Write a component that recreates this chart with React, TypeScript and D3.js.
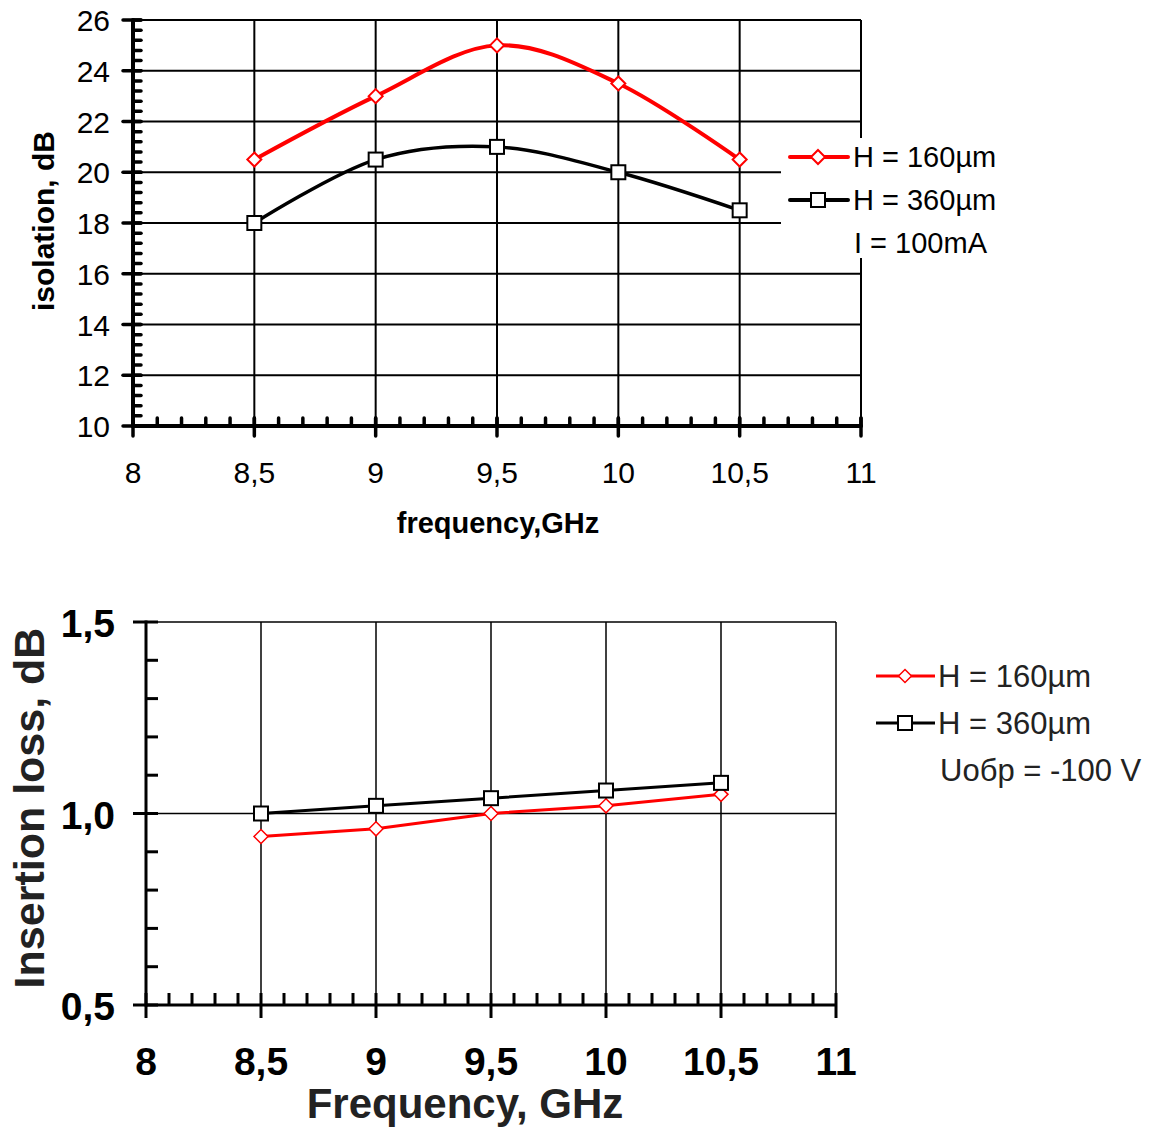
import React from "react";
import * as d3 from "d3";

// частоты, ГГц
const freqs = [8.5, 9, 9.5, 10, 10.5];

// верхний график: развязка, дБ
const iso160 = [20.5, 23, 25, 23.5, 20.5];
const iso360 = [18, 20.5, 21, 20, 18.5];
const isoTicks = [10, 12, 14, 16, 18, 20, 22, 24, 26];

// нижний график: вносимые потери, дБ
const loss160 = [0.94, 0.96, 1.0, 1.02, 1.05];
const loss360 = [1.0, 1.02, 1.04, 1.06, 1.08];
const lossTicks = [0.5, 1.0, 1.5];

const xTicks = [8, 8.5, 9, 9.5, 10, 10.5, 11];
const fmt = (v: number) => String(v).replace(".", ",");
const fmt1 = (v: number) => v.toFixed(1).replace(".", ",");

const diamond = (cx: number, cy: number, r: number) =>
  `M${cx},${cy - r}L${cx + r},${cy}L${cx},${cy + r}L${cx - r},${cy}Z`;

const font = "Arial, 'Liberation Sans', sans-serif";

const TopChart = () => {
  const x = d3.scaleLinear().domain([8, 11]).range([133, 861]);
  const y = d3.scaleLinear().domain([10, 26]).range([426, 20]);
  const line = d3
    .line<number>()
    .x((d, i) => x(freqs[i]))
    .y((d) => y(d))
    .curve(d3.curveCardinal.tension(0));
  const minorY = d3.range(10, 26.001, 0.4);
  const minorX = d3.range(8, 11.001, 0.1);
  return (
    <g>
      {/* сетка */}
      {isoTicks.slice(1).map((t) => (
        <line key={"h" + t} x1={x(8)} x2={x(11)} y1={y(t)} y2={y(t)} stroke="#000" strokeWidth={2} />
      ))}
      {xTicks.slice(1).map((t) => (
        <line key={"v" + t} x1={x(t)} x2={x(t)} y1={y(26)} y2={y(10)} stroke="#000" strokeWidth={2} />
      ))}
      {/* оси */}
      <g stroke="#000" strokeLinecap="round">
        {minorY.map((t, i) => (
          <line key={"my" + i} x1={x(8)} x2={x(8) + 8} y1={y(t)} y2={y(t)} strokeWidth={3.5} />
        ))}
        {minorX.map((t, i) => (
          <line key={"mx" + i} x1={x(t)} x2={x(t)} y1={y(10)} y2={y(10) - 8} strokeWidth={3.5} />
        ))}
        {isoTicks.map((t) => (
          <line key={"ty" + t} x1={x(8) - 10} x2={x(8) + 8} y1={y(t)} y2={y(t)} strokeWidth={3.5} />
        ))}
        {xTicks.map((t) => (
          <line key={"tx" + t} x1={x(t)} x2={x(t)} y1={y(10) - 8} y2={y(10) + 10} strokeWidth={3.5} />
        ))}
        <line x1={x(8)} x2={x(8)} y1={y(26)} y2={y(10)} strokeWidth={4} />
        <line x1={x(8)} x2={x(11)} y1={y(10)} y2={y(10)} strokeWidth={4} />
      </g>
      <g fontFamily={font} fontSize={30} fill="#000">
        {isoTicks.map((t) => (
          <text key={t} x={x(8) - 23} y={y(t) + 11} textAnchor="end">
            {t}
          </text>
        ))}
        {xTicks.map((t) => (
          <text key={t} x={x(t)} y={y(10) + 57} textAnchor="middle">
            {fmt(t)}
          </text>
        ))}
      </g>
      <text x={498} y={533} textAnchor="middle" fontFamily={font} fontWeight="bold" fontSize={29}>
        frequency,GHz
      </text>
      <text
        transform="translate(54,221) rotate(-90)"
        textAnchor="middle"
        fontFamily={font}
        fontWeight="bold"
        fontSize={30}
      >
        isolation, dB
      </text>
      {/* серии */}
      <path d={line(iso160) || ""} fill="none" stroke="#ff0000" strokeWidth={4} />
      <path d={line(iso360) || ""} fill="none" stroke="#000" strokeWidth={3.5} />
      {iso160.map((v, i) => (
        <path key={"d" + i} d={diamond(x(freqs[i]), y(v), 7)} fill="#fff" stroke="#ff0000" strokeWidth={2} />
      ))}
      {iso360.map((v, i) => (
        <rect key={"s" + i} x={x(freqs[i]) - 7} y={y(v) - 7} width={14} height={14} fill="#fff" stroke="#000" strokeWidth={2} />
      ))}
      {/* легенда */}
      <rect x={781} y={138} width={224} height={120} fill="#fff" />
      <line x1={790} x2={848} y1={157} y2={157} stroke="#ff0000" strokeWidth={4} strokeLinecap="round" />
      <path d={diamond(818, 157, 7)} fill="#fff" stroke="#ff0000" strokeWidth={2} />
      <line x1={790} x2={848} y1={200} y2={200} stroke="#000" strokeWidth={4} strokeLinecap="round" />
      <rect x={811} y={193} width={14} height={14} fill="#fff" stroke="#000" strokeWidth={2} />
      <g fontFamily={font} fontSize={29} fill="#000">
        <text x={853} y={167}>H = 160µm</text>
        <text x={853} y={210}>H = 360µm</text>
        <text x={854} y={253}>I = 100mA</text>
      </g>
    </g>
  );
};

const BottomChart = () => {
  const x = d3.scaleLinear().domain([8, 11]).range([146, 836]);
  const y = d3.scaleLinear().domain([0.5, 1.5]).range([1005, 622]);
  const line = d3
    .line<number>()
    .x((d, i) => x(freqs[i]))
    .y((d) => y(d));
  const minorY = d3.range(0.5, 1.5001, 0.1);
  const minorX = d3.range(8, 11.001, 0.1);
  return (
    <g>
      {lossTicks.slice(1).map((t) => (
        <line key={"h" + t} x1={x(8)} x2={x(11)} y1={y(t)} y2={y(t)} stroke="#000" strokeWidth={1.5} />
      ))}
      {xTicks.slice(1).map((t) => (
        <line key={"v" + t} x1={x(t)} x2={x(t)} y1={y(1.5)} y2={y(0.5)} stroke="#000" strokeWidth={1.5} />
      ))}
      <g stroke="#000">
        {minorY.map((t, i) => (
          <line key={"my" + i} x1={x(8)} x2={x(8) + 12} y1={y(t)} y2={y(t)} strokeWidth={3} />
        ))}
        {minorX.map((t, i) => (
          <line key={"mx" + i} x1={x(t)} x2={x(t)} y1={y(0.5)} y2={y(0.5) - 12} strokeWidth={3} />
        ))}
        {lossTicks.map((t) => (
          <line key={"ty" + t} x1={x(8) - 13} x2={x(8)} y1={y(t)} y2={y(t)} strokeWidth={3} />
        ))}
        {xTicks.map((t) => (
          <line key={"tx" + t} x1={x(t)} x2={x(t)} y1={y(0.5)} y2={y(0.5) + 13} strokeWidth={3} />
        ))}
        <line x1={x(8)} x2={x(8)} y1={y(1.5) - 1.5} y2={y(0.5) + 1.5} strokeWidth={3} />
        <line x1={x(8)} x2={x(11)} y1={y(0.5)} y2={y(0.5)} strokeWidth={3} />
      </g>
      <g fontFamily={font} fontSize={39} fontWeight="bold" fill="#000">
        {lossTicks.map((t) => (
          <text key={t} x={x(8) - 31} y={y(t) + 15} textAnchor="end">
            {fmt1(t)}
          </text>
        ))}
        {xTicks.map((t) => (
          <text key={t} x={x(t)} y={y(0.5) + 70} textAnchor="middle">
            {fmt(t)}
          </text>
        ))}
      </g>
      <text x={465} y={1118} textAnchor="middle" fontFamily={font} fontWeight="bold" fontSize={42} fill="#222">
        Frequency, GHz
      </text>
      <text
        transform="translate(44,808) rotate(-90)"
        textAnchor="middle"
        fontFamily={font}
        fontWeight="bold"
        fontSize={43}
        fill="#222"
      >
        Insertion loss, dB
      </text>
      <path d={line(loss160) || ""} fill="none" stroke="#ff0000" strokeWidth={3} />
      <path d={line(loss360) || ""} fill="none" stroke="#000" strokeWidth={3} />
      {loss160.map((v, i) => (
        <path key={"d" + i} d={diamond(x(freqs[i]), y(v), 7)} fill="#fff" stroke="#ff0000" strokeWidth={1.5} />
      ))}
      {loss360.map((v, i) => (
        <rect key={"s" + i} x={x(freqs[i]) - 7} y={y(v) - 7} width={14} height={14} fill="#fff" stroke="#000" strokeWidth={2} />
      ))}
      <line x1={876} x2={935} y1={676} y2={676} stroke="#ff0000" strokeWidth={3} />
      <path d={diamond(905, 676, 6.5)} fill="#fff" stroke="#ff0000" strokeWidth={1.5} />
      <line x1={876} x2={935} y1={723} y2={723} stroke="#000" strokeWidth={3} />
      <rect x={898} y={716} width={14} height={14} fill="#fff" stroke="#000" strokeWidth={2} />
      <g fontFamily={font} fontSize={31} fill="#222">
        <text x={938} y={687}>H = 160µm</text>
        <text x={938} y={734}>H = 360µm</text>
        <text x={940} y={781}>Uобр = -100 V</text>
      </g>
    </g>
  );
};

const App = () => (
  <svg
    width={1153}
    height={1130}
    viewBox="0 0 1153 1130"
    style={{ position: "absolute", left: 0, top: 0, background: "#fff" }}
  >
    <rect width={1153} height={1130} fill="#fff" />
    <TopChart />
    <BottomChart />
  </svg>
);

export default App;
